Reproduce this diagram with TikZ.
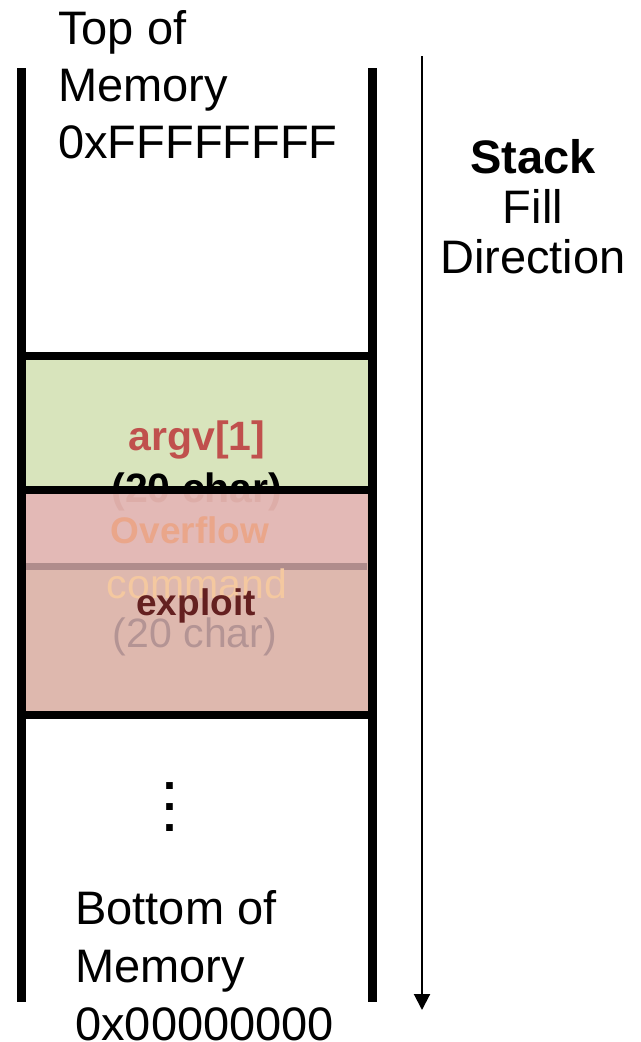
\documentclass[tikz,border=0pt]{standalone}
\usepackage{fontspec}
\setmainfont{Liberation Sans}
\usetikzlibrary{arrows.meta}

\definecolor{argfill}{HTML}{D8E4BC}
\definecolor{argred}{HTML}{C0504D}
\definecolor{exfill}{HTML}{DEB8AE}
\definecolor{exband}{HTML}{E3B9B6}
\definecolor{exline}{HTML}{B08C8C}
\definecolor{sizefade}{HTML}{DDADA8}
\definecolor{overcol}{HTML}{EAA68A}
\definecolor{cmdcol}{HTML}{F4C8A0}
\definecolor{exred}{HTML}{642020}
\definecolor{exgrey}{HTML}{B49494}

\begin{document}
\begin{tikzpicture}[x=0.75pt,y=-0.75pt,
    wall/.style={line width=6.75pt},
    edge/.style={line width=6.5pt},
    lbl/.style={inner sep=0pt,anchor=base},
    big/.style={font=\fontsize{30.75}{36}\selectfont},
    bigb/.style={font=\bfseries\fontsize{30.75}{36}\selectfont},
    mid/.style={font=\bfseries\fontsize{27.75}{33}\selectfont},
  ]
  \useasboundingbox (0,0) rectangle (640,1042);

  % argv[1] slot
  \fill[argfill] (21,356) rectangle (373,566);
  \node[lbl,bigb,text=argred] (argv) at (197,450) {argv[1]};
  \node[lbl,bigb] (argsize) at (197,502) {(20 char)};

  % exploit slot written over the top of it
  \fill[exfill] (21,490) rectangle (370,715);
  \fill[exband] (26,494) rectangle (367,563);
  \fill[exline] (26,563) rectangle (367,570);
  \begin{scope}
    \clip (26,494) rectangle (367,563);
    \node[lbl,bigb,text=sizefade] at (argsize.base) {(20 char)};
  \end{scope}
  \node[lbl,mid,text=overcol] (over) at (190,543) {Overflow};
  \node[lbl,big,text=cmdcol] (cmd) at (197,598) {command};
  \node[lbl,mid,text=exred] (exploit) at (196,615) {exploit};
  \node[lbl,big,text=exgrey] (exsize) at (195,647) {(20 char)};

  % slot borders and stack walls
  \draw[edge] (21,356) -- (373,356);
  \draw[edge] (21,490) -- (373,490);
  \draw[edge] (21,715) -- (373,715);
  \draw[wall] (21.5,68) -- (21.5,1002);
  \draw[wall] (372.5,68) -- (372.5,1002);

  % labels (base anchor sits on the last line)
  \node[anchor=base west,align=left,inner sep=0pt,font=\fontsize{35.25}{42.75}\selectfont] (top) at (58,158) {Top of\\Memory\\0xFFFFFFFF};
  \node[anchor=base west,align=left,inner sep=0pt,font=\fontsize{35.25}{43.5}\selectfont] (bottom) at (75,1040) {Bottom of\\Memory\\0x00000000};
  \node[lbl,align=center,font=\bfseries\fontsize{35}{15.4}\selectfont] (dots) at (170,831) {.\\.\\.};
  \node[lbl,align=center,font=\fontsize{35.25}{37.5}\selectfont] (dir) at (533,273) {\textbf{Stack}\\Fill\\Direction};

  % fill direction arrow
  \coordinate (filltop) at (422,56);
  \coordinate (fillend) at (422,1010);
  \draw[line width=1.5pt,-{Triangle[width=12pt,length=12pt]}] (filltop) -- (fillend);
\end{tikzpicture}
\end{document}
